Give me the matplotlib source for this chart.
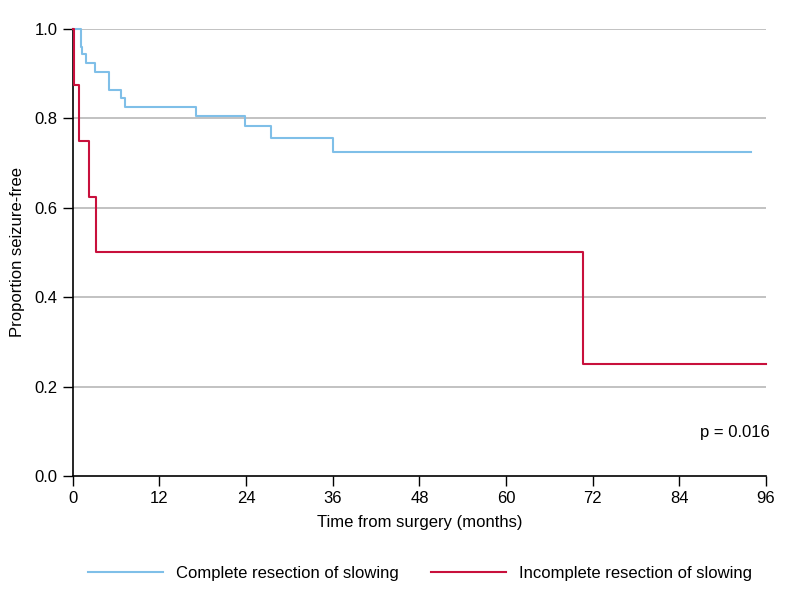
import matplotlib
matplotlib.use("Agg")
import matplotlib.pyplot as plt

blue_times = [0, 1.1, 1.3, 1.8, 3.1, 5.0, 6.7, 7.2, 17.1, 23.8, 27.4, 36.1, 93.9]
blue_surv = [1.0, 0.960, 0.943, 0.923, 0.904, 0.864, 0.845, 0.826, 0.806, 0.784, 0.757, 0.724, 0.724]
red_times = [0, 0.2, 0.8, 2.2, 3.2, 70.6, 96]
red_surv = [1.0, 0.875, 0.75, 0.625, 0.5, 0.25, 0.25]
series_labels = ["Complete resection of slowing", "Incomplete resection of slowing"]
x_ticks = [0, 12, 24, 36, 48, 60, 72, 84, 96]
y_ticks = [0.0, 0.2, 0.4, 0.6, 0.8, 1.0]

plt.rcParams['font.family'] = ['Liberation Sans', 'DejaVu Sans']
fig = plt.figure(figsize=(8, 6.11), dpi=100)
ax = fig.add_axes([0.091, 0.221, 0.8665, 0.7315])

blue = '#7fbfe8'
red = '#c8103c'
for y in y_ticks[1:]:
    ax.axhline(y, color='#bdbdbd', lw=1.3, zorder=1)
ax.step(blue_times, blue_surv, where='post', color=blue, lw=1.5, label=series_labels[0], zorder=3, clip_on=False)
ax.step(red_times, red_surv, where='post', color=red, lw=1.5, label=series_labels[1], zorder=3, clip_on=False)

ax.set_xlim(0, 96)
ax.set_ylim(0, 1)
ax.set_xticks(x_ticks)
ax.set_yticks(y_ticks)
ax.set_yticklabels([f"{v:.1f}" for v in y_ticks])
for s in ['top', 'right']:
    ax.spines[s].set_visible(False)
for s in ['left', 'bottom']:
    ax.spines[s].set_linewidth(1.2)
ax.tick_params(direction='out', length=7, width=1, labelsize=12, pad=4)
ax.set_xlabel("Time from surgery (months)", fontsize=12, labelpad=6)
ax.set_ylabel("Proportion seizure-free", fontsize=12, labelpad=7)
ax.text(96.5, 0.098, "p = 0.016", ha='right', va='center', fontsize=12)

fig.legend(loc='center', bbox_to_anchor=(0.525, 0.062), ncol=2, frameon=False,
           fontsize=12, handlelength=4.5, handletextpad=0.8, columnspacing=1.9)
fig.savefig("out.png", dpi=100)
